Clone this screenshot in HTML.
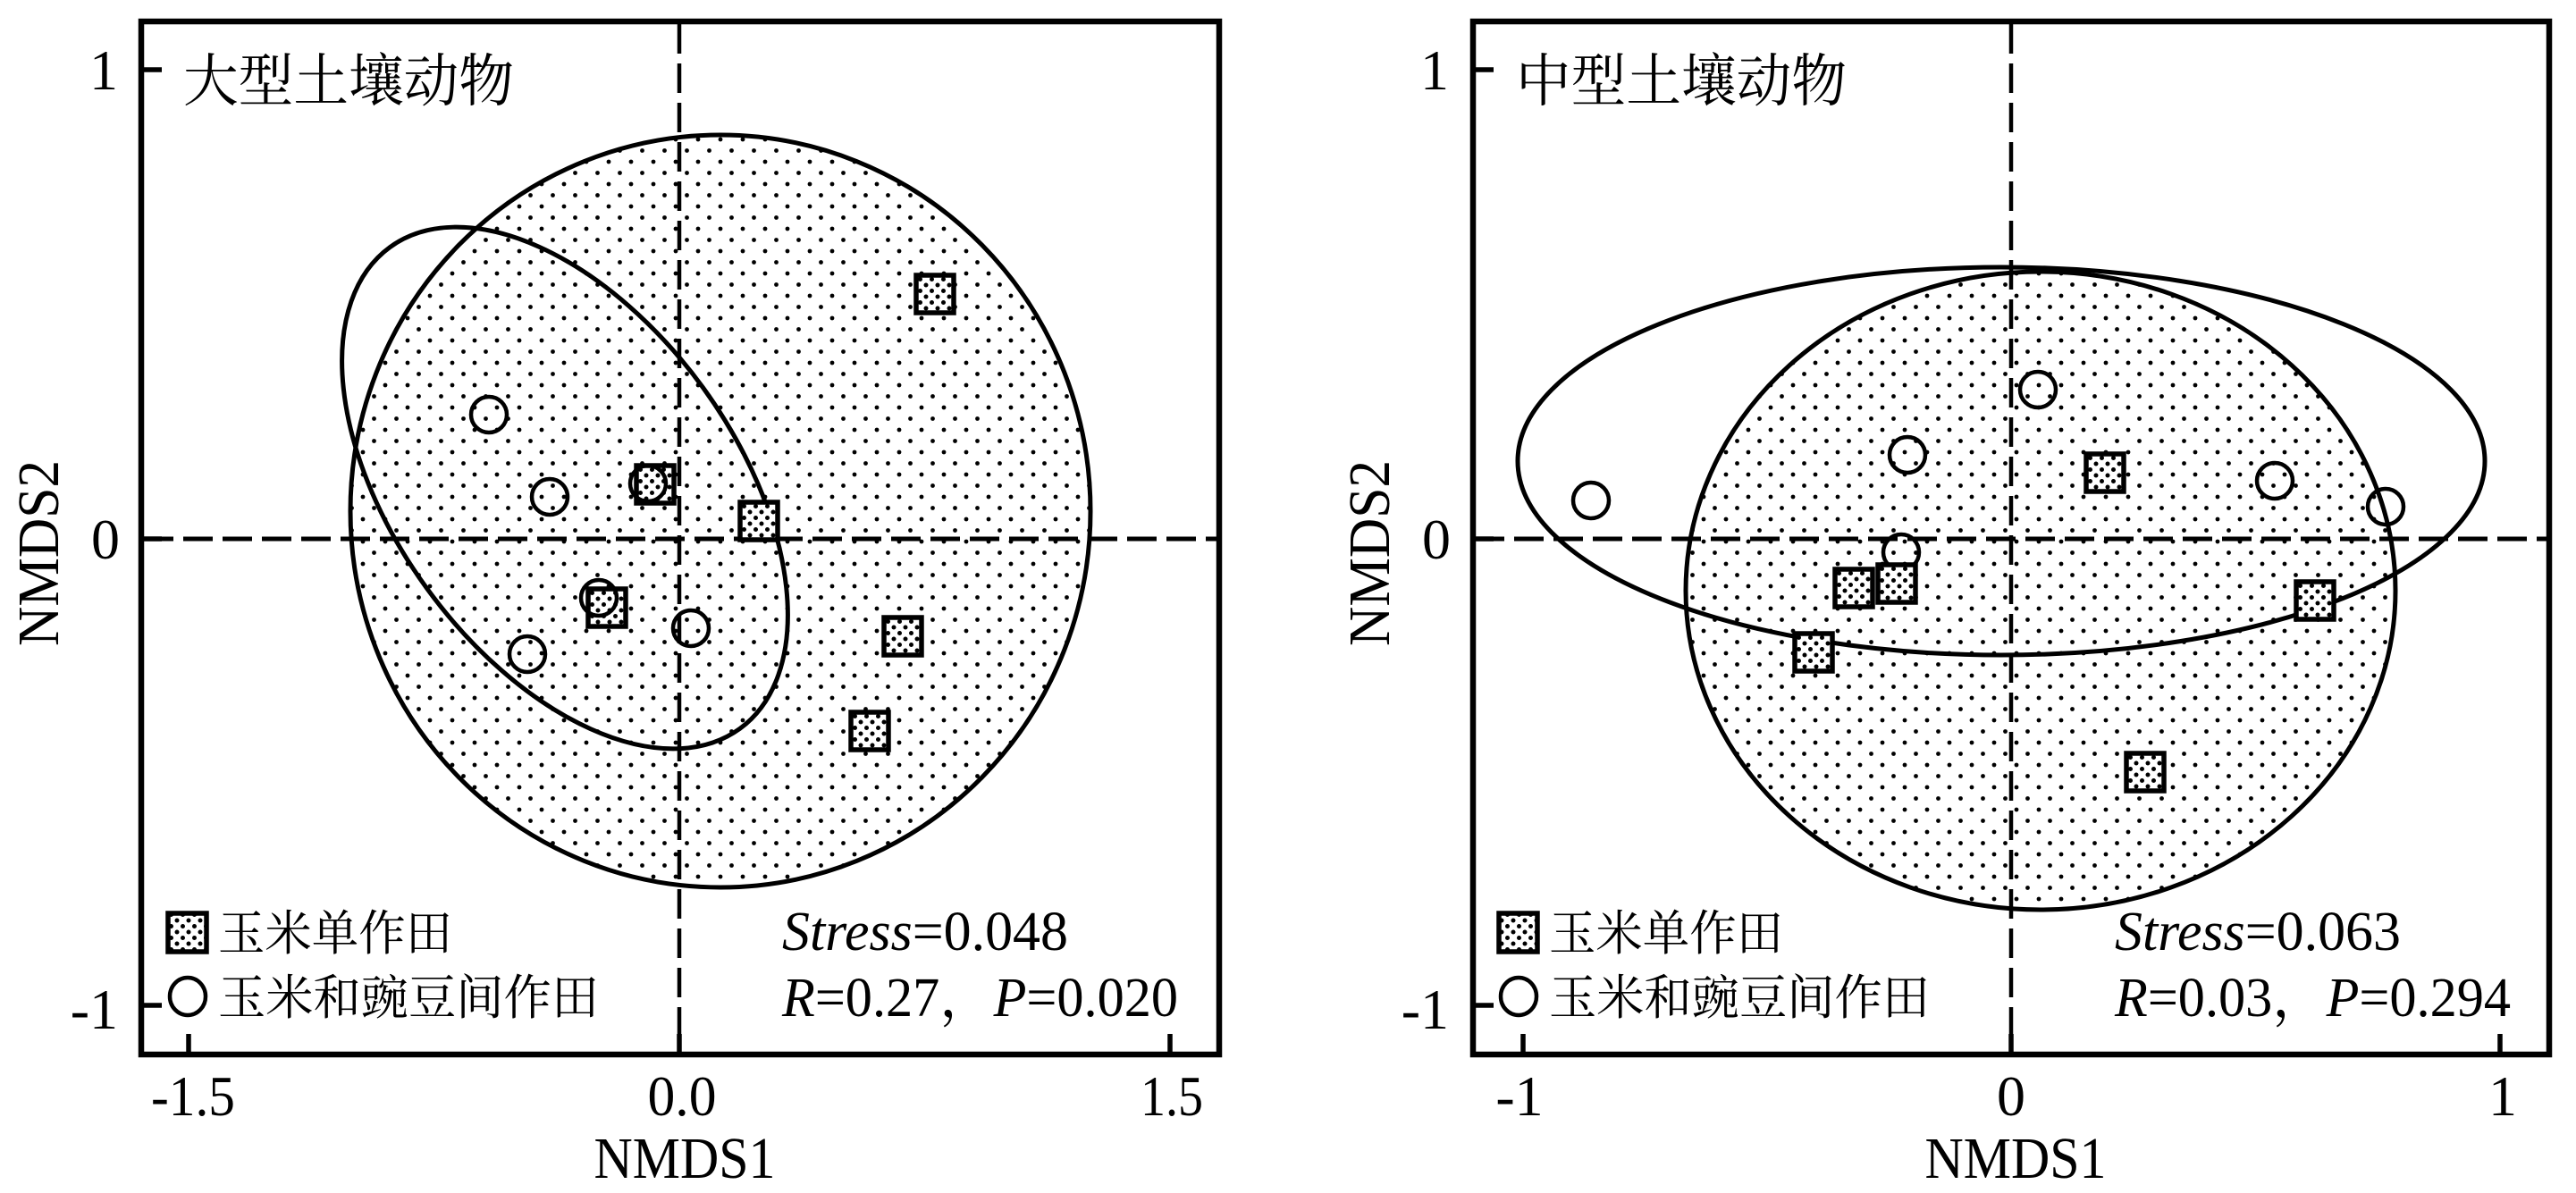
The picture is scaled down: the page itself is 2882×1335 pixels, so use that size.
<!DOCTYPE html>
<html><head><meta charset="utf-8"><style>html,body{margin:0;padding:0;background:#fff}svg{display:block}</style></head>
<body>
<svg width="2882" height="1335" viewBox="0 0 2882 1335" xmlns="http://www.w3.org/2000/svg">
<defs>
<pattern id="dots" width="25" height="25" patternUnits="userSpaceOnUse">
<rect width="25" height="25" fill="#fff"/>
<circle cx="6" cy="6" r="2.4" fill="#000"/>
<circle cx="18.5" cy="18.5" r="2.4" fill="#000"/>
</pattern>
<pattern id="dd" width="13" height="13" patternUnits="userSpaceOnUse">
<rect width="13" height="13" fill="#fff"/>
<circle cx="3" cy="3" r="2.5" fill="#000"/>
<circle cx="9.5" cy="9.5" r="2.5" fill="#000"/>
</pattern>
<g id="sq"><rect x="-21" y="-21" width="42" height="42" fill="url(#dd)" stroke="#000" stroke-width="5.5"/></g>
<g id="ci"><circle r="20" fill="none" stroke="#000" stroke-width="4.5"/></g>
</defs>
<style>
.t{font-family:"Liberation Serif",serif;fill:#000}
.c{font-family:"Liberation Serif","Noto Serif CJK SC","Noto Sans CJK SC",serif;fill:#000}
</style>

<!-- LEFT PANEL -->
<ellipse cx="806" cy="572" rx="414" ry="421" fill="url(#dots)" stroke="#000" stroke-width="5"/>
<ellipse cx="632" cy="546" rx="333" ry="191" transform="rotate(54 632 546)" fill="none" stroke="#000" stroke-width="5"/>
<line x1="760" y1="27" x2="760" y2="1177" stroke="#000" stroke-width="4.5" stroke-dasharray="33 11"/>
<line x1="161" y1="603" x2="1361" y2="603" stroke="#000" stroke-width="5" stroke-dasharray="33 11"/>
<use href="#sq" x="1046" y="329"/>
<use href="#sq" x="733" y="542"/>
<use href="#sq" x="849" y="583"/>
<use href="#sq" x="679" y="680"/>
<use href="#sq" x="1010" y="712"/>
<use href="#sq" x="973" y="818"/>
<use href="#ci" x="547" y="464"/>
<use href="#ci" x="615" y="556"/>
<use href="#ci" x="725" y="541"/>
<use href="#ci" x="670" y="669"/>
<use href="#ci" x="773" y="703"/>
<use href="#ci" x="590" y="732"/>
<rect x="158" y="24" width="1206" height="1156" fill="none" stroke="#000" stroke-width="6.5"/>
<g stroke="#000" stroke-width="5.5">
<line x1="161" y1="78" x2="181" y2="78"/><line x1="161" y1="603" x2="181" y2="603"/><line x1="161" y1="1125" x2="181" y2="1125"/>
<line x1="211" y1="1177" x2="211" y2="1157"/><line x1="760" y1="1177" x2="760" y2="1157"/><line x1="1309" y1="1177" x2="1309" y2="1157"/>
</g>
<g class="t" font-size="64" text-anchor="end">
<text x="132" y="100">1</text><text x="134" y="625">0</text><text x="132" y="1151">-1</text>
</g>
<g class="t" font-size="64" text-anchor="middle">
<text x="216" y="1248" textLength="94" lengthAdjust="spacingAndGlyphs">-1.5</text><text x="763" y="1248" textLength="77" lengthAdjust="spacingAndGlyphs">0.0</text><text x="1311" y="1248" textLength="70" lengthAdjust="spacingAndGlyphs">1.5</text>
</g>
<text class="t" font-size="66" x="766" y="1318" text-anchor="middle" textLength="203" lengthAdjust="spacingAndGlyphs">NMDS1</text>
<text class="t" font-size="66" transform="translate(65 619) rotate(-90)" text-anchor="middle" textLength="208" lengthAdjust="spacingAndGlyphs">NMDS2</text>
<text class="c" font-size="64" x="205" y="113" textLength="370" lengthAdjust="spacingAndGlyphs">大型土壤动物</text>
<rect x="188" y="1022" width="43" height="43" fill="url(#dd)" stroke="#000" stroke-width="5.5"/>
<ellipse cx="210" cy="1115" rx="20" ry="21" fill="none" stroke="#000" stroke-width="4.5"/>
<text class="c" font-size="54" x="244" y="1063" textLength="262" lengthAdjust="spacingAndGlyphs">玉米单作田</text>
<text class="c" font-size="54" x="244" y="1135" textLength="426" lengthAdjust="spacingAndGlyphs">玉米和豌豆间作田</text>
<text class="t" font-size="62" x="875" y="1063" textLength="320" lengthAdjust="spacingAndGlyphs"><tspan font-style="italic">Stress</tspan>=0.048</text>
<text class="c" font-size="62" x="875" y="1137" textLength="443" lengthAdjust="spacingAndGlyphs"><tspan font-style="italic">R</tspan>=0.27，<tspan font-style="italic">P</tspan>=0.020</text>

<!-- RIGHT PANEL -->
<ellipse cx="2283" cy="661" rx="397" ry="357" fill="url(#dots)" stroke="#000" stroke-width="5"/>
<ellipse cx="2239" cy="516" rx="541" ry="217" fill="none" stroke="#000" stroke-width="5"/>
<line x1="2250" y1="27" x2="2250" y2="1177" stroke="#000" stroke-width="4.5" stroke-dasharray="33 11"/>
<line x1="1650" y1="603" x2="2850" y2="603" stroke="#000" stroke-width="5" stroke-dasharray="33 11"/>
<use href="#ci" x="1780" y="560"/>
<use href="#ci" x="2134" y="509"/>
<use href="#ci" x="2280" y="436"/>
<use href="#ci" x="2545" y="538"/>
<use href="#ci" x="2669" y="567"/>
<use href="#ci" x="2127" y="618"/>
<use href="#sq" x="2355" y="529"/>
<use href="#sq" x="2074" y="658"/>
<use href="#sq" x="2122" y="653"/>
<use href="#sq" x="2029" y="730"/>
<use href="#sq" x="2590" y="672"/>
<use href="#sq" x="2400" y="864"/>
<rect x="1648" y="24" width="1204" height="1156" fill="none" stroke="#000" stroke-width="6.5"/>
<g stroke="#000" stroke-width="5.5">
<line x1="1651" y1="78" x2="1671" y2="78"/><line x1="1651" y1="603" x2="1671" y2="603"/><line x1="1651" y1="1125" x2="1671" y2="1125"/>
<line x1="1704" y1="1177" x2="1704" y2="1157"/><line x1="2250" y1="1177" x2="2250" y2="1157"/><line x1="2797" y1="1177" x2="2797" y2="1157"/>
</g>
<g class="t" font-size="64" text-anchor="end">
<text x="1621" y="100">1</text><text x="1623" y="625">0</text><text x="1621" y="1151">-1</text>
</g>
<g class="t" font-size="64" text-anchor="middle">
<text x="1700" y="1248">-1</text><text x="2250" y="1248">0</text><text x="2800" y="1248">1</text>
</g>
<text class="t" font-size="66" x="2255" y="1318" text-anchor="middle" textLength="203" lengthAdjust="spacingAndGlyphs">NMDS1</text>
<text class="t" font-size="66" transform="translate(1554 619) rotate(-90)" text-anchor="middle" textLength="208" lengthAdjust="spacingAndGlyphs">NMDS2</text>
<text class="c" font-size="64" x="1696" y="113" textLength="370" lengthAdjust="spacingAndGlyphs">中型土壤动物</text>
<rect x="1677" y="1022" width="43" height="43" fill="url(#dd)" stroke="#000" stroke-width="5.5"/>
<ellipse cx="1699" cy="1115" rx="20" ry="21" fill="none" stroke="#000" stroke-width="4.5"/>
<text class="c" font-size="54" x="1733" y="1063" textLength="262" lengthAdjust="spacingAndGlyphs">玉米单作田</text>
<text class="c" font-size="54" x="1733" y="1135" textLength="426" lengthAdjust="spacingAndGlyphs">玉米和豌豆间作田</text>
<text class="t" font-size="62" x="2366" y="1063" textLength="320" lengthAdjust="spacingAndGlyphs"><tspan font-style="italic">Stress</tspan>=0.063</text>
<text class="c" font-size="62" x="2366" y="1137" textLength="443" lengthAdjust="spacingAndGlyphs"><tspan font-style="italic">R</tspan>=0.03，<tspan font-style="italic">P</tspan>=0.294</text>
</svg>
</body></html>
